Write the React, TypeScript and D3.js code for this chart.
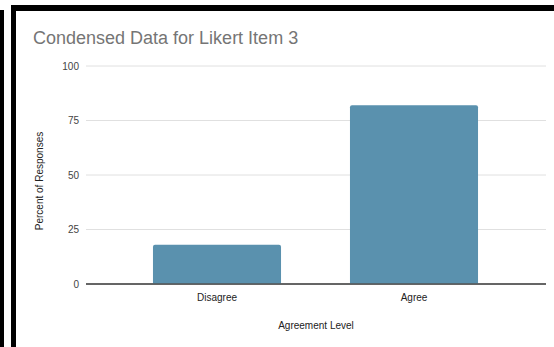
import React from "react";
import * as d3 from "d3";

const categories = ["Disagree", "Agree"];
const values = [18, 82];
const yTicks = [0, 25, 50, 75, 100];
const title = "Condensed Data for Likert Item 3";
const xTitle = "Agreement Level";
const yTitle = "Percent of Responses";

export default function App() {
  const W = 554, H = 347;
  const plotLeft = 86, plotRight = 546, plotTop = 66, plotBottom = 284;
  const y = d3.scaleLinear().domain([0, 100]).range([plotBottom, plotTop]);
  const x = d3.scaleBand<string>().domain(categories).range([118.5, 512.5]).paddingInner(0.35).paddingOuter(0.175);
  const font = "'Liberation Sans', Arial, sans-serif";
  const barColor = "#5a91ae";
  return (
    <svg width={W} height={H} style={{ position: "fixed", left: 0, top: 0, background: "#fff" }} fontFamily={font}>
      <rect x={0} y={0} width={W} height={H} fill="#fff" />
      {/* frame */}
      <rect x={0} y={10} width={4} height={H - 10} fill="#000" />
      <rect x={11} y={5} width={W - 11} height={6} fill="#000" />
      <rect x={11} y={5} width={5} height={H - 5} fill="#000" />
      <text x={33} y={44} fontSize={18} fill="#757575">{title}</text>
      {yTicks.map((t) => (
        <g key={t}>
          <line x1={plotLeft} x2={plotRight} y1={y(t)} y2={y(t)} stroke={t === 0 ? "#333" : "#e0e0e0"} strokeWidth={1} />
          <text x={79} y={y(t)} dy="0.35em" textAnchor="end" fontSize={10} fill="#444">{t}</text>
        </g>
      ))}
      {categories.map((c, i) => {
        const bx = x(c)!;
        const bw = x.bandwidth();
        const top = y(values[i]);
        const h = plotBottom - top;
        const r = 2;
        const path = `M${bx},${plotBottom - 0.5} V${top + r} Q${bx},${top} ${bx + r},${top} H${bx + bw - r} Q${bx + bw},${top} ${bx + bw},${top + r} V${plotBottom - 0.5} Z`;
        return (
          <g key={c}>
            <path d={path} fill={barColor} />
            <text x={bx + bw / 2} y={297} dy="0.35em" textAnchor="middle" fontSize={10} fill="#222">{c}</text>
          </g>
        );
      })}
      <line x1={plotLeft} x2={plotRight} y1={plotBottom} y2={plotBottom} stroke="#333" strokeWidth={1} />
      <text x={316} y={325} dy="0.35em" textAnchor="middle" fontSize={10} fill="#222">{xTitle}</text>
      <text transform={`translate(39,181) rotate(-90)`} textAnchor="middle" dy="0.35em" fontSize={10} fill="#222">{yTitle}</text>
    </svg>
  );
}
